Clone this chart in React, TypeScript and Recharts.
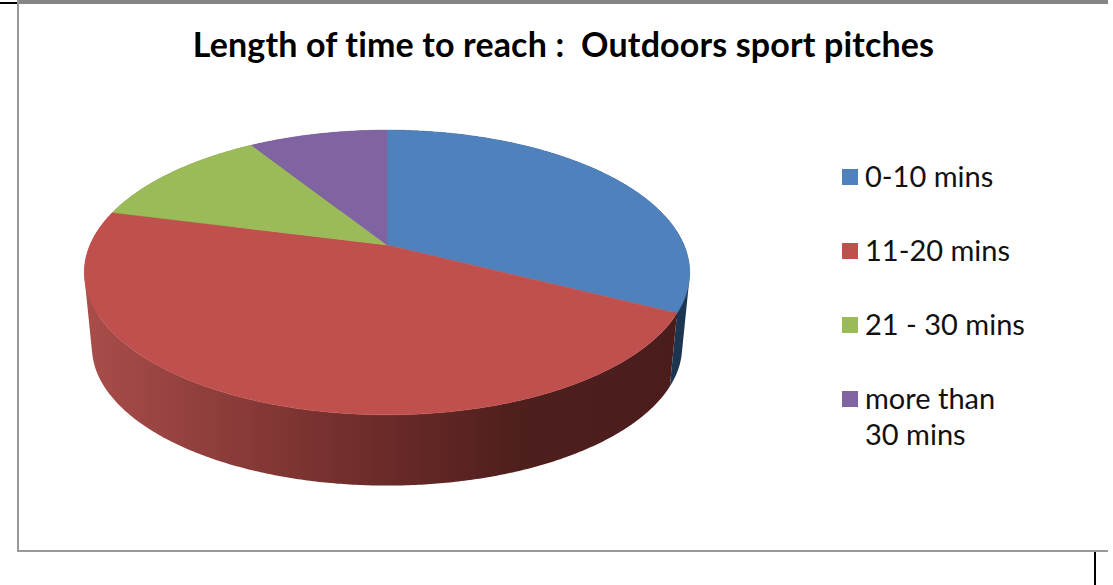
import React from 'react';
import { PieChart, Pie, Legend } from 'recharts';

const categories = ['0-10 mins', '11-20 mins', '21 - 30 mins', 'more than 30 mins'];
const shares = [32.5, 46.5, 12.1, 8.9];
const topColors = ['#4F81BD', '#C0504D', '#9BBB59', '#8064A2'];
const wallFills = ['#1C3550', 'url(#redWall)', '#5A7033', '#4B3B60'];

const pieData = categories.map((name, i) => ({ name, value: shares[i], fill: topColors[i] }));

// the pie is tilted, so the centre sits above the middle of the ellipse
const TILT = 0.4615;
const PERSPECTIVE = 0.193;
const DEPTH = 75;
const BOTTOM_SCALE = 0.975;

const project = (cx: number, cy: number, r: number, deg: number) => {
  const u = Math.cos((deg * Math.PI) / 180);
  const v = Math.sin((deg * Math.PI) / 180);
  const w = 1 + PERSPECTIVE * v;
  return [cx + (r * u) / w, cy - (r * TILT * v) / w];
};

const arcPoints = (cx: number, cy: number, r: number, from: number, to: number) => {
  const steps = Math.max(2, Math.ceil(Math.abs(to - from) * 2));
  const pts: number[][] = [];
  for (let i = 0; i <= steps; i++) {
    pts.push(project(cx, cy, r, from + ((to - from) * i) / steps));
  }
  return pts;
};

const toPath = (pts: number[][]) =>
  'M' + pts.map(p => `${p[0].toFixed(2)},${p[1].toFixed(2)}`).join('L') + 'Z';

const TopSlice = (props: any) => {
  const { cx, cy, outerRadius, startAngle, endAngle, fill } = props;
  const pts = [[cx, cy], ...arcPoints(cx, cy, outerRadius, startAngle, endAngle)];
  return <path d={toPath(pts)} fill={fill} stroke={fill} strokeWidth={0.5} />;
};

// side wall: one quad per arc step, all wound the same way so they merge into one shape
const WallSlice = (props: any) => {
  const { cx, cy, outerRadius, startAngle, endAngle, index } = props;
  const top = arcPoints(cx, cy, outerRadius, startAngle, endAngle);
  const bottom = arcPoints(cx, cy + DEPTH, outerRadius * BOTTOM_SCALE, startAngle, endAngle);
  let d = '';
  for (let i = 0; i < top.length - 1; i++) {
    const quad = [top[i], top[i + 1], bottom[i + 1], bottom[i]];
    let area = 0;
    quad.forEach((p, j) => {
      const q = quad[(j + 1) % 4];
      area += p[0] * q[1] - q[0] * p[1];
    });
    d += toPath(area < 0 ? quad.reverse() : quad);
  }
  return <path d={d} fill={wallFills[index]} />;
};

const ChartLegend = () => (
  <div style={{ fontFamily: 'Lato, sans-serif', fontSize: 29, lineHeight: '36px', color: '#111' }}>
    {categories.map((name, i) => (
      <div key={name} style={{ position: 'relative', paddingLeft: 23, height: 74, width: 166 }}>
        <span
          style={{ position: 'absolute', left: 0, top: 11, width: 16, height: 16, background: topColors[i] }}
        />
        {name}
      </div>
    ))}
  </div>
);

export default function App() {
  return (
    <div style={{ position: 'absolute', left: 0, top: 0, width: 1113, height: 585, background: '#fff', overflow: 'hidden' }}>
      <div style={{ position: 'absolute', left: 0, top: 2, width: 17, height: 2, background: '#000' }} />
      <div style={{ position: 'absolute', left: 17, top: 0, width: 1091, height: 4, background: '#868686' }} />
      <div style={{ position: 'absolute', left: 17, top: 0, width: 2, height: 552, background: '#999' }} />
      <div style={{ position: 'absolute', left: 17, top: 550, width: 1091, height: 2, background: '#999' }} />
      <div style={{ position: 'absolute', left: 1094, top: 552, width: 2, height: 33, background: '#000' }} />
      <div
        style={{
          position: 'absolute',
          left: 0,
          width: 1127,
          top: 23,
          textAlign: 'center',
          fontFamily: 'Lato, sans-serif',
          fontWeight: 700,
          fontSize: 34,
          letterSpacing: 0.15,
          lineHeight: '42px',
          whiteSpace: 'pre',
          color: '#000',
        }}
      >
        {'Length of time to reach :  Outdoors sport pitches'}
      </div>
      <PieChart
        width={1113}
        height={585}
        margin={{ top: 0, right: 0, bottom: 0, left: 0 }}
        style={{ position: 'absolute', left: 0, top: 0 }}
      >
        <defs>
          <linearGradient id="redWall" gradientUnits="userSpaceOnUse" x1="84" y1="0" x2="690" y2="0">
            <stop offset="0" stopColor="#A94D4A" />
            <stop offset="0.455" stopColor="#702D2B" />
            <stop offset="0.72" stopColor="#4E1F1D" />
            <stop offset="1" stopColor="#4A1C1C" />
          </linearGradient>
        </defs>
        <Pie
          data={pieData}
          dataKey="value"
          cx={387}
          cy={245}
          outerRadius={297}
          startAngle={90}
          endAngle={-270}
          legendType="none"
          shape={WallSlice}
          isAnimationActive={false}
        />
        <Pie
          data={pieData}
          dataKey="value"
          cx={387}
          cy={245}
          outerRadius={297}
          startAngle={90}
          endAngle={-270}
          shape={TopSlice}
          isAnimationActive={false}
        />
        <Legend
          content={<ChartLegend />}
          layout="vertical"
          wrapperStyle={{ position: 'absolute', left: 842, top: 158, width: 200, bottom: 'auto' }}
        />
      </PieChart>
    </div>
  );
}
